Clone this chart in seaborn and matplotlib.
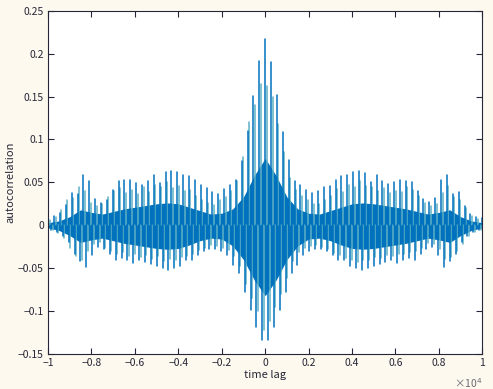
import numpy as np
import pandas as pd
import matplotlib
matplotlib.use("Agg")
import matplotlib.pyplot as plt
import seaborn as sns

# -----------------------------
# data
# -----------------------------
period = 270  # lag spacing between the big positive pulses

# positive pulse heights, left to right (lag -37*period ... 0 ... +37*period)
top_left = [0.008, 0.011, 0.014, 0.024, 0.038, 0.036, 0.058, 0.052, 0.031, 0.026,
            0.030, 0.041, 0.051, 0.053, 0.053, 0.049, 0.047, 0.052, 0.059, 0.049,
            0.062, 0.063, 0.062, 0.058, 0.057, 0.053, 0.047, 0.043, 0.039, 0.037,
            0.042, 0.047, 0.053, 0.075, 0.110, 0.151, 0.191]
top_center = [0.217]
top_right = [0.190, 0.152, 0.109, 0.076, 0.052, 0.047, 0.041, 0.038, 0.040, 0.044,
             0.046, 0.053, 0.057, 0.059, 0.062, 0.063, 0.061, 0.050, 0.058, 0.052,
             0.048, 0.050, 0.053, 0.052, 0.050, 0.040, 0.031, 0.027, 0.032, 0.053,
             0.058, 0.037, 0.039, 0.023, 0.013, 0.010, 0.008]

# negative pulse depths, halfway between the positive ones
bot_left = [-0.006, -0.008, -0.012, -0.020, -0.033, -0.042, -0.049, -0.035, -0.025, -0.028,
            -0.033, -0.040, -0.038, -0.041, -0.044, -0.040, -0.043, -0.045, -0.047, -0.050,
            -0.052, -0.050, -0.048, -0.041, -0.040, -0.035, -0.030, -0.028, -0.028, -0.030,
            -0.035, -0.046, -0.056, -0.078, -0.099, -0.118, -0.134]
bot_right = [-0.134, -0.118, -0.099, -0.078, -0.056, -0.046, -0.035, -0.030, -0.028, -0.028,
             -0.030, -0.035, -0.040, -0.041, -0.048, -0.050, -0.052, -0.050, -0.047, -0.045,
             -0.043, -0.040, -0.044, -0.041, -0.038, -0.040, -0.033, -0.028, -0.025, -0.035,
             -0.049, -0.042, -0.033, -0.020, -0.012, -0.008, -0.006]

# smaller in-between pulses (quarter period after each big one), left to right
mid_up = [0.006, 0.010, 0.018, 0.030, 0.032, 0.045, 0.040, 0.026, 0.022, 0.025,
          0.033, 0.040, 0.043, 0.038, 0.041, 0.037, 0.044, 0.039, 0.047, 0.045,
          0.050, 0.043, 0.046, 0.040, 0.041, 0.034, 0.030, 0.026, 0.024, 0.030,
          0.033, 0.040, 0.052, 0.080, 0.120, 0.140, 0.165,
          0.162, 0.150, 0.118, 0.085, 0.055, 0.041, 0.034, 0.029, 0.025, 0.025,
          0.029, 0.034, 0.042, 0.039, 0.047, 0.044, 0.051, 0.046, 0.045, 0.040,
          0.043, 0.038, 0.040, 0.039, 0.044, 0.041, 0.034, 0.026, 0.022, 0.025,
          0.038, 0.046, 0.033, 0.030, 0.020, 0.011, 0.007]
mid_down = [-0.006, -0.009, -0.015, -0.027, -0.036, -0.040, -0.030, -0.022, -0.020, -0.026,
            -0.030, -0.034, -0.031, -0.036, -0.033, -0.037, -0.035, -0.039, -0.036, -0.042,
            -0.039, -0.041, -0.037, -0.036, -0.033, -0.029, -0.026, -0.023, -0.024, -0.026,
            -0.029, -0.036, -0.048, -0.068, -0.085, -0.100, -0.122,
            -0.112, -0.095, -0.080, -0.062, -0.042, -0.031, -0.027, -0.024, -0.023, -0.025,
            -0.028, -0.032, -0.035, -0.038, -0.040, -0.043, -0.040, -0.041, -0.037, -0.038,
            -0.035, -0.036, -0.033, -0.034, -0.031, -0.030, -0.026, -0.021, -0.022, -0.028,
            -0.039, -0.037, -0.030, -0.022, -0.013, -0.008, -0.005]

# dense core of the signal, every 500 lags
core_lags = list(range(-10000, 10001, 500))
core_hi = [0.003, 0.005, 0.010, 0.018, 0.015, 0.013, 0.016, 0.019, 0.021, 0.023,
           0.025, 0.026, 0.025, 0.021, 0.017, 0.013, 0.014, 0.019, 0.033, 0.058,
           0.078,
           0.058, 0.033, 0.019, 0.014, 0.013, 0.017, 0.021, 0.025, 0.026, 0.025,
           0.023, 0.021, 0.019, 0.016, 0.013, 0.015, 0.018, 0.010, 0.005, 0.003]
core_lo = [-0.003, -0.006, -0.012, -0.020, -0.017, -0.015, -0.018, -0.021, -0.023, -0.025,
           -0.027, -0.028, -0.027, -0.023, -0.018, -0.015, -0.016, -0.024, -0.040, -0.064,
           -0.082,
           -0.064, -0.040, -0.024, -0.016, -0.015, -0.018, -0.023, -0.027, -0.028, -0.027,
           -0.025, -0.023, -0.021, -0.018, -0.015, -0.017, -0.020, -0.012, -0.006, -0.003]

xticks = [-10000, -8000, -6000, -4000, -2000, 0, 2000, 4000, 6000, 8000, 10000]
xticklabels = ['\u22121', '\u22120.8', '\u22120.6', '\u22120.4', '\u22120.2', '0',
               '0.2', '0.4', '0.6', '0.8', '1']
yticks = [-0.15, -0.1, -0.05, 0, 0.05, 0.1, 0.15, 0.2, 0.25]
yticklabels = ['\u22120.15', '\u22120.1', '\u22120.05', '0', '0.05', '0.1', '0.15', '0.2', '0.25']


# -----------------------------
# long tables of pulses (each pulse = vertical segment from 0)
# -----------------------------
def pulse_table(lags, vals):
    rows = []
    for i, (lg, v) in enumerate(zip(lags, vals)):
        rows.append({'lag': lg, 'value': 0.0, 'pulse': i})
        rows.append({'lag': lg, 'value': v, 'pulse': i})
    return pd.DataFrame(rows)


top_vals = top_left + top_center + top_right
top_lags = np.arange(-len(top_left), len(top_right) + 1) * period
bot_vals = bot_left + bot_right
bot_lags = (np.arange(-len(bot_left), len(bot_right)) + 0.5) * period
mid_k = np.arange(-37, 37)
up_lags = (mid_k + 0.25) * period
down_lags = (mid_k + 0.75) * period

big = pulse_table(np.concatenate([top_lags, bot_lags]), top_vals + bot_vals)
small = pulse_table(np.concatenate([up_lags, down_lags]), mid_up + mid_down)

# -----------------------------
# plot
# -----------------------------
sns.set_style("ticks")
plt.rcParams['font.family'] = ['Noto Sans CJK JP', 'DejaVu Sans']

ink = '#262638'
blue = '#0072BD'
teal = '#5cb0c4'

fig = plt.figure(figsize=(4.93, 3.89), dpi=100, facecolor='#fdf9ee')
ax = fig.add_axes([0.0974, 0.090, 0.881, 0.8825])
ax.set_facecolor('white')

sns.lineplot(data=small, x='lag', y='value', units='pulse', estimator=None, sort=False,
             color=teal, lw=1.1, ax=ax)
ax.fill_between(core_lags, core_lo, core_hi, color=blue, lw=0)
sns.lineplot(data=big, x='lag', y='value', units='pulse', estimator=None, sort=False,
             color=blue, lw=1.1, ax=ax)

ax.set_xlim(-10000, 10000)
ax.set_ylim(-0.15, 0.25)
ax.set_xticks(xticks)
ax.set_xticklabels(xticklabels)
ax.set_yticks(yticks)
ax.set_yticklabels(yticklabels)
ax.tick_params(direction='in', length=4, width=0.8, colors=ink, labelsize=7.5,
               top=True, right=True, pad=3)
for s in ax.spines.values():
    s.set_color(ink)
    s.set_linewidth(0.8)

ax.set_xlabel('time lag', fontsize=8, color=ink, labelpad=1)
ax.set_ylabel('autocorrelation', fontsize=8, color=ink, labelpad=2)
ax.text(1.0, -0.085, '\u00d710$^{4}$', transform=ax.transAxes, ha='right', va='center',
        fontsize=7.5, color='#6a6a72')

fig.savefig('out.png', dpi=100, facecolor=fig.get_facecolor())
